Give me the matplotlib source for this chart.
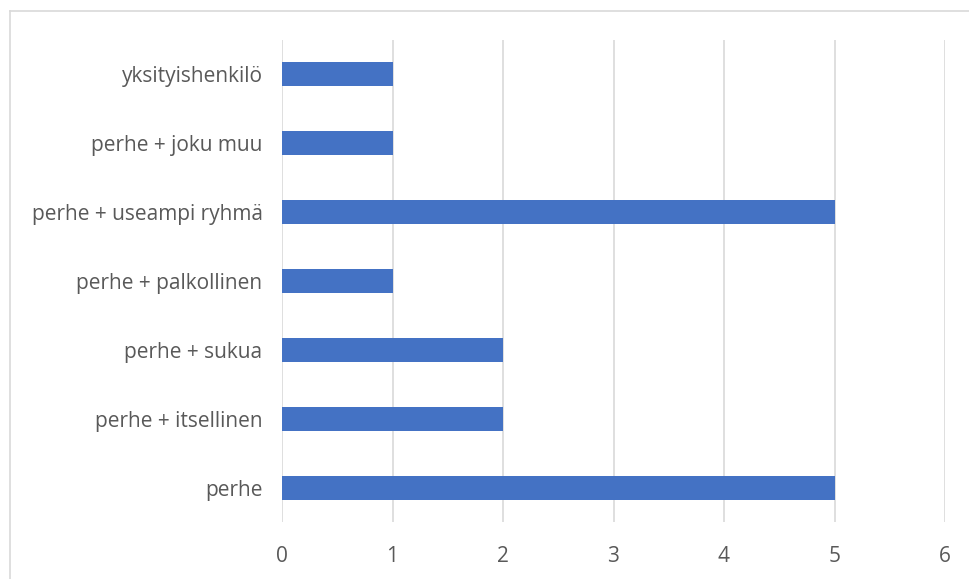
import matplotlib
matplotlib.use("Agg")
import matplotlib.pyplot as plt
from matplotlib.lines import Line2D

categories = ["perhe", "perhe + itsellinen", "perhe + sukua", "perhe + palkollinen",
              "perhe + useampi ryhmä", "perhe + joku muu", "yksityishenkilö"]
values = [5, 2, 2, 1, 5, 1, 1]
x_ticks = [0, 1, 2, 3, 4, 5, 6]

plt.rcParams['font.family'] = ['Open Sans', 'DejaVu Sans']

fig = plt.figure(figsize=(9.70, 5.79), dpi=100)
ax = fig.add_axes([282 / 970, 1 - 522 / 579, (945 - 282) / 970, (522 - 40) / 579])

ax.barh(range(len(categories)), values, height=0.35, color="#4472C4", zorder=3)

ax.set_xlim(0, 6)
ax.set_ylim(-0.5, len(categories) - 0.5)
ax.set_xticks(x_ticks)
ax.set_yticks(range(len(categories)))
ax.set_yticklabels(categories)
ax.grid(axis="x", color="#D9D9D9", linewidth=1.2, zorder=0)
for s in ax.spines.values():
    s.set_visible(False)
ax.tick_params(axis="both", length=0, labelsize=15, colors="#595959")
ax.tick_params(axis="x", pad=17)
ax.tick_params(axis="y", pad=14)

# outer chart border (only left and top visible in the crop)
fig.add_artist(Line2D([10 / 970, 10 / 970], [0, 1 - 11 / 579], color="#D9D9D9", linewidth=1.2))
fig.add_artist(Line2D([10 / 970, 1], [1 - 11 / 579, 1 - 11 / 579], color="#D9D9D9", linewidth=1.2))

fig.savefig("out.png", dpi=100)
